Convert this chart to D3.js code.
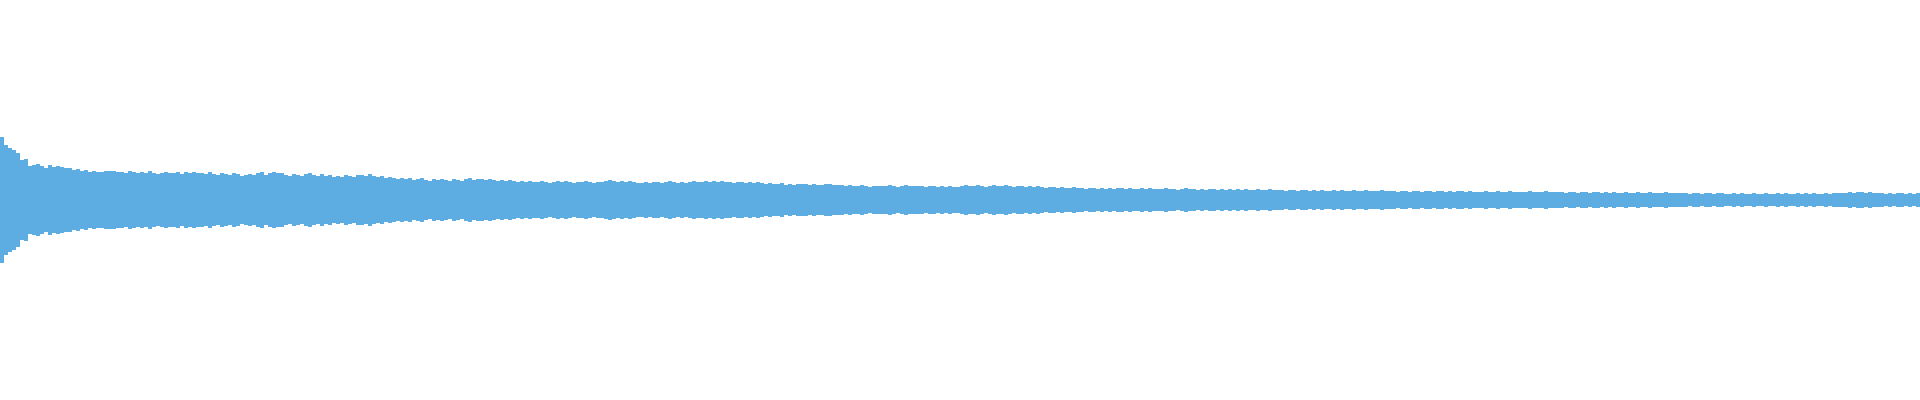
<!DOCTYPE html>
<html>
<head>
<meta charset="utf-8">
<script src="https://cdn.jsdelivr.net/npm/d3@7"></script>
<style>
  html, body { margin: 0; padding: 0; background: #ffffff; }
  svg { display: block; }
</style>
</head>
<body>
<svg id="chart" width="1920" height="400"></svg>
<script>
// Waveform peak amplitudes, one value per bin (480 bins across the clip)
const amp_0 = [63,55,52,50,47,40,41,34,35,36, 34,32,35,33,34,33,32,32,30,31,
               29,30,28,29,28,28,29,29,29,28, 28,27,29,28,27,28,27,29,27,26,
               27,28,27,27,28,26,28,27,28,27, 27,26,28,26,25,27,26,25,27,26];
const amp_1 = [24,25,26,25,27,28,25,27,28,27, 27,25,24,26,25,24,26,27,25,24,
               26,24,25,23,24,23,25,24,23,25, 25,24,26,24,23,24,22,23,22,21,
               22,21,22,20,21,22,20,19,21,20, 21,20,19,21,20,19,21,22,20,21];
const amp_2 = [21,20,21,20,19,20,19,20,19,18, 19,18,19,18,18,19,18,17,18,19,
               18,19,18,17,18,18,19,18,17,18, 18,19,20,19,18,19,18,19,18,17,
               17,18,17,18,18,17,18,19,18,17, 18,17,18,19,18,18,19,18,19,18];
const amp_3 = [19,18,18,17,18,18,17,18,17,18, 17,16,17,16,16,17,15,16,15,16,
               16,16,15,16,15,15,16,16,15,15, 15,14,15,14,14,15,14,13,14,14,
               14,14,15,14,13,14,15,14,14,14, 14,13,14,14,13,14,13,14,13,13];
const amp_4 = [14,15,14,14,15,14,13,14,15,14, 14,15,14,13,14,14,13,14,13,14,
               13,12,13,13,12,13,12,12,13,12, 12,11,12,12,11,12,11,12,11,12,
               12,11,12,11,11,12,11,12,11,11, 11,12,11,11,10,11,12,11,11,10];
const amp_5 = [11,10,11,11,10,11,10,11,10,11, 10,11,10,10,11,10,10,11,10,10,
               10,9,10,10,9,10,10,9,10,9,     10,9,9,10,9,10,9,9,10,9,
               9,10,9,9,9,10,9,9,9,8,         9,9,8,9,9,8,9,9,8,9];
const amp_6 = [9,8,9,8,9,9,8,9,8,8,           8,9,8,8,9,8,8,9,8,8,
               8,8,9,8,8,8,9,8,8,8,           8,7,8,8,7,8,8,7,8,8,
               7,8,7,8,7,7,8,7,7,8,           7,7,8,7,7,7,8,7,7,7];
const amp_7 = [7,7,6,7,7,6,7,7,6,7,           7,6,6,7,6,7,6,6,7,6,
               6,7,6,6,7,6,7,6,6,7,           6,7,6,7,6,6,7,6,7,7,
               7,7,8,7,8,8,7,8,7,7,           7,6,7,6,7,7,6,7,6,7];

const amplitudes = [].concat(amp_0, amp_1, amp_2, amp_3, amp_4, amp_5, amp_6, amp_7);
const binIndex = amplitudes.map((d, i) => i);

const width = 1920, height = 400;
const svg = d3.select("#chart");
svg.append("rect").attr("width", width).attr("height", height).attr("fill", "#ffffff");

const x = d3.scaleBand().domain(binIndex).range([0, width]).padding(0);
const y = d3.scaleLinear().domain([-64, 64]).range([263.5, 135.5]);

svg.append("g")
  .selectAll("rect")
  .data(amplitudes)
  .join("rect")
  .attr("x", (d, i) => x(i))
  .attr("width", x.bandwidth())
  .attr("y", d => y(d))
  .attr("height", d => y(-d) - y(d))
  .attr("fill", "#5DACE2")
  .attr("shape-rendering", "crispEdges");
</script>
</body>
</html>
